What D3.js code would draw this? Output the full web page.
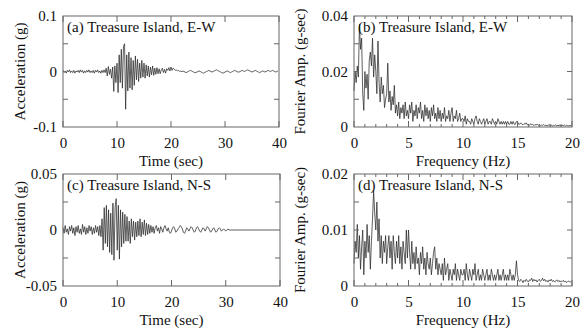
<!DOCTYPE html>
<html><head><meta charset="utf-8">
<script src="https://cdn.jsdelivr.net/npm/d3@7"></script>
<style>body{margin:0;background:#fff}svg{display:block}svg text{font-family:'Liberation Serif','DejaVu Serif',serif !important;fill:#111}</style>
</head><body><svg id="c" width="585" height="332" font-family="Liberation Serif, DejaVu Serif, serif"></svg>
<script>
// ---- data ----
const dtAcc = 0.2; // sec, sampling of the digitised records
const accEW = [
0.002,-0.002,0.001,-0.003,0.002,-0.001,0.003,-0.002,0.001,-0.002,
0.002,-0.003,0.001,-0.001,0.002,-0.002,0.003,-0.001,0.002,-0.003,
0.001,-0.002,0.002,-0.001,0.003,-0.002,0.001,-0.002,0.002,-0.003,
0.002,-0.001,0.003,-0.002,0.001,-0.003,0.002,-0.002,0.003,-0.002,
0.006,-0.008,0.009,-0.005,0.004,-0.012,0.008,-0.036,0.01,-0.02,
0.015,-0.038,0.03,-0.02,0.04,-0.03,0.045,0.05,-0.068,0.03,
-0.035,0.035,-0.03,0.025,-0.033,0.02,-0.025,0.028,-0.015,0.022,
-0.018,0.015,-0.012,0.02,-0.01,0.015,-0.012,0.012,-0.008,0.01,
-0.01,0.008,-0.006,0.01,-0.007,0.006,-0.005,0.007,-0.004,0.005,
-0.004,0.003,0.006,-0.002,0.004,-0.003,0.005,0.002,0.007,0.001,
0.008,0.002,0.006,
0.004,0.002,0.003,0.001,0.002,0.000,0.001,-0.001,0.001,0.000,
-0.001,-0.002,-0.001,0.000,0.001,0.002,0.001,0.000,-0.001,-0.002,
-0.002,-0.001,0.000,0.001,0.000,-0.001,-0.002,-0.003,-0.002,-0.001,
0.000,0.001,0.002,0.001,0.000,-0.001,0.000,0.001,0.002,0.003,
0.002,0.001,0.000,-0.001,-0.002,-0.003,-0.002,-0.001,0.000,0.001,
0.000,-0.001,-0.002,-0.001,0.000,0.001,0.002,0.001,0.000,-0.001,
-0.001,0.000,0.001,0.002,0.001,0.000,0.001,0.002,0.003,0.002,
0.001,0.000,-0.001,0.000,0.001,0.002,0.001,0.000,-0.001,-0.002,
-0.001,0.000,0.001,0.000,-0.001,0.000,0.001,0.002,0.001,0.000,
0.001,0.002,0.001,0.000,-0.001,0.000,0.001];
const accNS = [
0.002,-0.003,0.004,-0.002,0.001,-0.004,0.003,-0.001,0.004,-0.003,
0.002,-0.005,0.003,-0.002,0.004,-0.003,0.001,-0.004,0.005,-0.002,
0.003,-0.004,0.002,-0.003,0.004,-0.001,0.003,-0.004,0.002,-0.003,
0.004,-0.002,0.003,-0.005,0.004,
-0.006,0.01,-0.018,0.02,-0.012,0.022,-0.015,0.018,-0.02,0.015,
-0.022,0.024,-0.027,0.02,0.028,-0.018,0.022,-0.026,0.018,-0.015,
0.016,-0.012,0.014,-0.01,0.012,-0.01,0.008,-0.012,0.01,-0.006,
0.008,-0.009,0.007,-0.006,0.008,-0.005,0.01,-0.006,0.007,-0.004,
0.009,-0.005,0.006,-0.004,0.005,
-0.003,0.004,-0.002,0.003,-0.003,0.002,0.004,-0.001,0.002,-0.003,
0.003,0.001,-0.002,0.002,0.004,0.001,-0.001,0.002,-0.002,-0.003,
-0.001,0.002,0.003,0.001,-0.002,-0.001,0.001,0.002,0.004,0.003,
0.001,-0.002,-0.003,-0.001,0.002,0.001,-0.001,0.001,0.003,0.002,
0.000,-0.002,-0.001,0.002,0.003,0.001,-0.001,-0.002,0.000,0.002,
0.001,-0.001,0.001,0.003,0.002,0.000,-0.002,-0.001,0.001,0.002,
0.000,-0.002,-0.001,0.001,0.002,0.001,-0.001,0.000,0.001,0.000,
-0.001,0.000,0.001,0.000,0.000,0.000];
const nsRecordEnd = 40; // record padded with zero to 40 s

const dfFour = 0.1; // Hz
const fourEW = [
0.013,0.02,0.016,0.022,0.018,0.037,0.028,0.032,0.012,0.006,
0.02,0.014,0.019,0.01,0.024,0.027,0.022,0.032,0.018,0.026,
0.02,0.012,0.031,0.016,0.009,0.018,0.012,0.015,0.007,0.01,
0.012,0.023,0.009,0.013,0.006,0.011,0.008,0.015,0.005,0.008,
0.004,0.009,0.003,0.007,0.005,0.008,0.003,0.009,0.004,0.006,
0.003,0.008,0.005,0.009,0.002,0.006,0.004,0.008,0.003,0.007,
0.005,0.009,0.003,0.006,0.002,0.008,0.004,0.007,0.003,0.006,
0.002,0.007,0.004,0.008,0.003,0.005,0.002,0.007,0.003,0.006,
0.002,0.005,0.003,0.007,0.002,0.004,0.003,0.006,0.002,0.005,
0.007,0.002,0.004,0.003,0.006,0.002,0.003,0.005,0.002,0.003,
0.003,0.002,0.004,0.001,0.003,0.002,0.002,0.001,0.003,0.002,
0.001,0.003,0.004,0.002,0.001,0.003,0.002,0.001,0.002,0.003,
0.001,0.002,0.003,0.001,0.002,0.002,0.001,0.003,0.002,0.001,
0.002,0.001,0.003,0.002,0.001,0.002,0.001,0.002,0.001,0.002,
0.001,0.002,0.001,0.001,0.002,0.001,0.002,0.001,0.001,0.002,
0.002,0.001,0.001,0.0015,0.001,0.0008,0.0012,0.001,0.0015,0.0008,
0.001,0.0006,0.0012,0.0008,0.001,0.0005,0.0009,0.0007,0.001,0.0006,
0.0008,0.0005,0.0007,0.0006,0.0009,0.0005,0.0007,0.0004,0.0006,0.0008,
0.0005,0.0007,0.0004,0.0006,0.0005,0.0008,0.0004,0.0006,0.0005,0.0007,
0.0004,0.0006,0.0005,0.0007,0.0004,0.0006,0.0005,0.0004,0.0006,0.0005];
const fourNS = [
0.004,0.008,0.006,0.011,0.005,0.009,0.003,0.007,0.01,0.002,
0.008,0.005,0.011,0.006,0.009,0.003,0.008,0.012,0.017,0.013,
0.01,0.015,0.008,0.012,0.005,0.009,0.004,0.008,0.006,0.009,
0.004,0.007,0.009,0.005,0.008,0.003,0.009,0.006,0.004,0.008,
0.005,0.009,0.004,0.007,0.003,0.008,0.006,0.004,0.01,0.005,
0.01,0.006,0.003,0.008,0.004,0.006,0.003,0.007,0.004,0.005,
0.002,0.006,0.004,0.007,0.003,0.005,0.002,0.006,0.004,0.003,
0.005,0.002,0.004,0.006,0.007,0.003,0.005,0.002,0.004,0.003,
0.002,0.004,0.001,0.005,0.002,0.003,0.004,0.001,0.003,0.002,
0.001,0.003,0.002,0.004,0.001,0.003,0.002,0.001,0.003,0.002,
0.002,0.003,0.001,0.004,0.002,0.001,0.003,0.002,0.001,0.003,
0.002,0.004,0.001,0.002,0.003,0.001,0.002,0.001,0.003,0.002,
0.001,0.002,0.003,0.001,0.002,0.001,0.003,0.002,0.001,0.002,
0.001,0.002,0.003,0.001,0.002,0.001,0.002,0.003,0.001,0.002,
0.001,0.002,0.001,0.003,0.002,0.001,0.002,0.001,0.002,0.0045,
0.002,0.001,0.0008,0.0012,0.001,0.0006,0.001,0.0008,0.0012,0.0009,
0.0007,0.0011,0.001,0.0014,0.0008,0.0012,0.0009,0.0011,0.0007,0.001,
0.0012,0.0008,0.001,0.0014,0.0009,0.0012,0.0008,0.001,0.0007,0.0011,
0.0009,0.0012,0.0008,0.001,0.0007,0.0009,0.0011,0.0008,0.001,0.0007,
0.0009,0.0008,0.001,0.0007,0.0009,0.0006,0.0008,0.0009,0.0007,0.0008];

const timeTicks = [0,10,20,30,40];
const freqTicks = [0,5,10,15,20];
const accEWTicks = [-0.1,0,0.1];
const accNSTicks = [-0.05,0,0.05];
const fourEWTicks = [0,0.02,0.04];
const fourNSTicks = [0,0.01,0.02];
const titles = ["(a) Treasure Island, E-W","(b) Treasure Island, E-W","(c) Treasure Island, N-S","(d) Treasure Island, N-S"];

// ---- drawing ----
const FONT = "Liberation Serif, DejaVu Serif, serif";
const svg = d3.select("#c");
const fmt = v => v===0 ? "0" : String(v);

function panel(o){
  const x = d3.scaleLinear().domain(o.xd).range([o.x0,o.x1]);
  const y = d3.scaleLinear().domain(o.yd).range([o.y1,o.y0]);
  const g = svg.append("g");
  g.append("path").datum(o.pts)
   .attr("fill","none").attr("stroke","#2a2a2a").attr("stroke-width",0.75)
   .attr("d", d3.line().x(d=>x(d[0])).y(d=>y(d[1])));
  const tk = g.append("g").attr("stroke","#666").attr("stroke-width",1);
  o.xMinor.forEach(t=>{
    const L = o.xt.includes(t)?6:3;
    tk.append("line").attr("x1",x(t)).attr("x2",x(t)).attr("y1",o.y1).attr("y2",o.y1-L);
    tk.append("line").attr("x1",x(t)).attr("x2",x(t)).attr("y1",o.y0).attr("y2",o.y0+L);
  });
  o.yMinor.forEach(t=>{
    tk.append("line").attr("x1",o.x0).attr("x2",o.x0+5).attr("y1",y(t)).attr("y2",y(t));
    tk.append("line").attr("x1",o.x1).attr("x2",o.x1-5).attr("y1",y(t)).attr("y2",y(t));
  });
  g.append("rect").attr("x",o.x0).attr("y",o.y0).attr("width",o.x1-o.x0).attr("height",o.y1-o.y0)
   .attr("fill","none").attr("stroke","#666").attr("stroke-width",1);
  const ax = g.append("g").attr("transform",`translate(0,${o.y1})`)
    .call(d3.axisBottom(x).tickValues(o.xt).tickSize(0).tickPadding(0).tickFormat(fmt));
  ax.attr("font-family",FONT).attr("font-size",15);
  ax.select(".domain").remove();
  ax.selectAll("text").attr("fill","#111").attr("dy",0).attr("y",21);
  const ay = g.append("g").attr("transform",`translate(${o.x0},0)`)
    .call(d3.axisLeft(y).tickValues(o.yt).tickSize(0).tickPadding(6).tickFormat(fmt));
  ay.attr("font-family",FONT).attr("font-size",15);
  ay.select(".domain").remove();
  ay.selectAll("text").attr("fill","#111");
  g.append("text").attr("x",o.x0+4).attr("y",o.y0+16).attr("font-family",FONT).attr("font-size",15).text(o.title);
  g.append("text").attr("x",(o.x0+o.x1)/2).attr("y",o.y1+39).attr("text-anchor","middle").attr("font-family",FONT).attr("font-size",15).text(o.xlab);
  g.append("text").attr("transform",`translate(${o.ylx},${(o.y0+o.y1)/2}) rotate(-90)`).attr("text-anchor","middle").attr("font-family",FONT).attr("font-size",15).text(o.ylab);
}

const ptsEW = accEW.map((v,i)=>[i*dtAcc,v]);
const ptsNS = accNS.map((v,i)=>[i*dtAcc,v]); ptsNS.push([nsRecordEnd,0]);
const ptsFEW = fourEW.map((v,i)=>[i*dfFour,v]);
const ptsFNS = fourNS.map((v,i)=>[i*dfFour,v]);

const tMin=[0,10,20,30,40], fMin=d3.range(0,21,1);
panel({x0:63,x1:279,y0:16,y1:127,xd:[0,40],yd:[-0.1,0.1],pts:ptsEW,xt:timeTicks,xMinor:tMin,yt:accEWTicks,yMinor:[-0.05,0.05],
  title:titles[0],xlab:"Time (sec)",ylab:"Acceleration (g)",ylx:25});
panel({x0:354,x1:572,y0:16,y1:127,xd:[0,20],yd:[0,0.04],pts:ptsFEW,xt:freqTicks,xMinor:fMin,yt:fourEWTicks,yMinor:[0.01,0.02,0.03],
  title:titles[1],xlab:"Frequency (Hz)",ylab:"Fourier Amp. (g-sec)",ylx:305});
panel({x0:63,x1:280,y0:174,y1:286,xd:[0,40],yd:[-0.05,0.05],pts:ptsNS,xt:timeTicks,xMinor:tMin,yt:accNSTicks,yMinor:[-0.025,0.025],
  title:titles[2],xlab:"Time (sec)",ylab:"Acceleration (g)",ylx:25});
panel({x0:354,x1:572,y0:174,y1:286,xd:[0,20],yd:[0,0.02],pts:ptsFNS,xt:freqTicks,xMinor:fMin,yt:fourNSTicks,yMinor:[0.005,0.01,0.015],
  title:titles[3],xlab:"Frequency (Hz)",ylab:"Fourier Amp. (g-sec)",ylx:305});
</script></body></html>
